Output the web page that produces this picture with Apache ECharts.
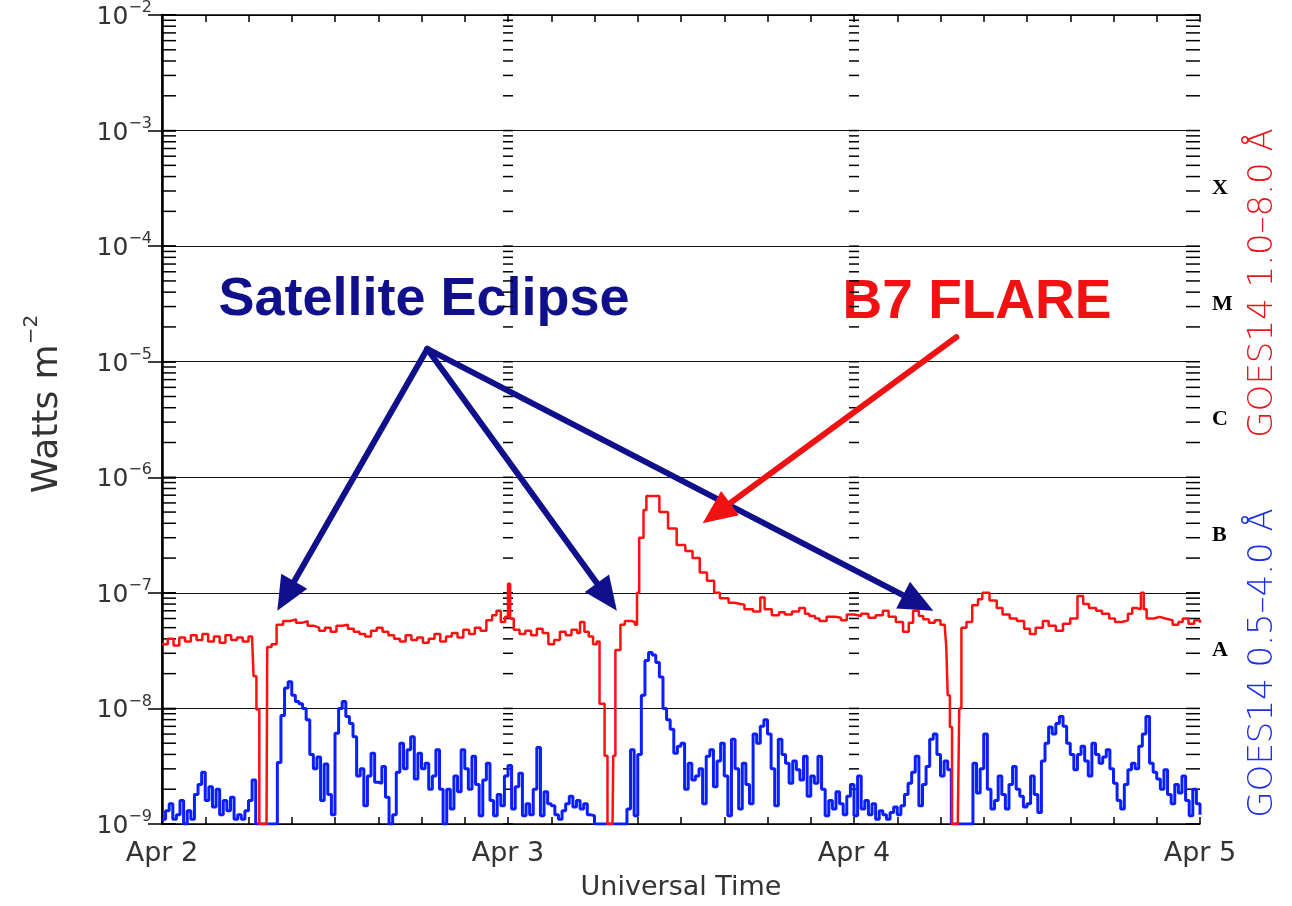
<!DOCTYPE html>
<html>
<head>
<meta charset="utf-8">
<script src="https://cdn.jsdelivr.net/npm/echarts@6/dist/echarts.min.js"></script>
<style>
  html, body { margin: 0; padding: 0; background: #fff; }
  #chart { width: 1292px; height: 906px; }
</style>
</head>
<body>
<div id="chart"></div>
<script>
// time axis: hours since Apr 2 00:00 UT
const dayLabels = ['Apr 2', 'Apr 3', 'Apr 4', 'Apr 5']
const decadeExponents = [-9, -8, -7, -6, -5, -4, -3, -2]
const flareClasses = ['', 'A', 'B', 'C', 'M', 'X', '']

// GOES14 1.0-8.0 A (red), W m^-2
const longHours = [
  0.0, 0.4, 0.8, 1.2, 1.6, 2.0, 2.4, 2.8, 3.2, 3.6, 4.0, 4.4, 4.8, 5.2, 5.6, 6.0, 6.25, 6.35, 6.55, 6.75,
  7.25, 7.3, 7.6, 7.95, 8.4, 8.9, 9.3, 9.7, 10.1, 10.5, 10.9, 11.3, 11.7, 12.1, 12.5, 12.9, 13.3, 13.7, 14.1, 14.5,
  14.9, 15.3, 15.7, 16.1, 16.5, 16.9, 17.3, 17.7, 18.1, 18.5, 18.9, 19.3, 19.7, 20.1, 20.5, 20.9, 21.3, 21.7, 22.1, 22.5,
  22.9, 23.2, 23.5, 23.8, 24.0, 24.15, 24.4, 24.8, 25.2, 25.6, 26.0, 26.4, 26.8, 27.2, 27.6, 28.0, 28.4, 28.8, 29.0, 29.3,
  29.6, 29.9, 30.15, 30.35, 30.7, 30.9, 31.25, 31.3, 31.45, 31.8, 32.1, 32.6, 32.8, 32.95, 33.1, 33.4, 33.6, 34.2, 34.5, 35.1,
  35.7, 36.3, 36.8, 37.3, 37.8, 38.3, 38.7, 39.3, 39.7, 40.4, 41.0, 41.5, 41.8, 42.3, 42.8, 43.2, 43.7, 44.2, 44.6, 44.9,
  45.3, 45.6, 46.1, 46.7, 47.1, 47.5, 48.0, 48.5, 49.0, 49.5, 50.0, 50.4, 50.9, 51.4, 51.8, 52.1, 52.5, 52.8, 53.2, 53.6,
  54.0, 54.3, 54.4, 54.5, 54.65, 54.8, 55.2, 55.3, 55.45, 55.8, 56.2, 56.6, 56.9, 57.4, 57.9, 58.3, 58.8, 59.3, 59.8, 60.2,
  60.6, 61.1, 61.5, 62.0, 62.5, 63.0, 63.5, 63.9, 64.3, 64.8, 65.2, 65.7, 66.1, 66.6, 67.0, 67.3, 67.6, 67.9, 68.1, 68.3,
  68.8, 69.2, 69.6, 70.1, 70.5, 70.8, 71.2, 71.6, 72.0
]
const longFlux = [
  3.6e-8, 4.0e-8, 3.5e-8, 4.1e-8, 3.8e-8, 4.3e-8, 3.9e-8, 4.4e-8, 3.8e-8, 4.2e-8, 3.7e-8, 4.3e-8, 3.9e-8, 4.1e-8, 3.8e-8, 4.2e-8, 4.0e-8, 1.9e-8, 9.8e-9, 1e-9,
  1e-9, 3.4e-8, 3.6e-8, 5.3e-8, 5.7e-8, 5.9e-8, 5.5e-8, 5.7e-8, 5.2e-8, 5.0e-8, 4.7e-8, 5.0e-8, 4.6e-8, 5.2e-8, 5.3e-8, 4.9e-8, 4.6e-8, 4.4e-8, 4.2e-8, 4.7e-8,
  5.0e-8, 4.6e-8, 4.3e-8, 4.0e-8, 3.8e-8, 4.3e-8, 3.9e-8, 4.1e-8, 3.7e-8, 4.0e-8, 4.4e-8, 3.8e-8, 4.2e-8, 4.5e-8, 4.1e-8, 4.8e-8, 4.4e-8, 5.0e-8, 4.7e-8, 5.8e-8,
  6.4e-8, 7.0e-8, 5.6e-8, 6.2e-8, 1.2e-7, 6.0e-8, 4.8e-8, 4.4e-8, 4.7e-8, 4.3e-8, 4.9e-8, 4.5e-8, 3.6e-8, 3.9e-8, 4.6e-8, 4.3e-8, 4.8e-8, 4.5e-8, 5.6e-8, 4.6e-8,
  4.2e-8, 3.6e-8, 3.8e-8, 1.1e-8, 3.9e-9, 1e-9, 1e-9, 3.9e-9, 3.2e-8, 5.3e-8, 5.7e-8, 5.6e-8, 5.3e-8, 1.0e-7, 3.0e-7, 5.2e-7, 6.9e-7, 6.9e-7, 5.0e-7, 3.6e-7,
  2.6e-7, 2.3e-7, 2.0e-7, 1.5e-7, 1.27e-7, 1.0e-7, 9.0e-8, 8.2e-8, 7.9e-8, 7.2e-8, 6.9e-8, 9.1e-8, 7.2e-8, 6.4e-8, 6.8e-8, 6.5e-8, 6.9e-8, 7.4e-8, 6.6e-8, 6.3e-8,
  6.0e-8, 5.7e-8, 6.2e-8, 6.1e-8, 5.8e-8, 6.5e-8, 6.3e-8, 6.6e-8, 6.1e-8, 6.4e-8, 7.0e-8, 6.2e-8, 5.6e-8, 4.6e-8, 5.5e-8, 7.0e-8, 6.3e-8, 5.9e-8, 5.5e-8, 5.8e-8,
  5.3e-8, 5.0e-8, 3.4e-8, 1.3e-8, 6.9e-9, 1e-9, 1e-9, 1.0e-8, 5.0e-8, 5.6e-8, 7.8e-8, 8.8e-8, 1.0e-7, 8.6e-8, 7.4e-8, 6.5e-8, 6.0e-8, 5.7e-8, 4.9e-8, 4.4e-8,
  5.0e-8, 5.7e-8, 5.2e-8, 4.7e-8, 5.4e-8, 6.0e-8, 9.4e-8, 8.0e-8, 7.4e-8, 7.0e-8, 6.6e-8, 6.0e-8, 5.6e-8, 5.8e-8, 6.6e-8, 7.4e-8, 7.2e-8, 1.0e-7, 7.2e-8, 6.0e-8,
  6.2e-8, 6.0e-8, 5.8e-8, 5.3e-8, 5.6e-8, 6.0e-8, 5.4e-8, 5.8e-8, 5.5e-8
]

// GOES14 0.5-4.0 A (blue), nW m^-2, one reading every 15 min from Apr 2 00:00
const shortStepHours = 0.25
const shortFluxNano = [
  1.1, 1.3, 1.5, 1.1, 1.2, 1.6, 1.0, 1.3,
  1.1, 1.8, 2.2, 2.8, 1.6, 2.1, 1.4, 2.0,
  1.2, 1.6, 1.3, 1.7, 1.1, 1.2, 1.1, 1.3,
  1.6, 2.4, 1.0, 1.0, 1.0, 1.0, 1.0, 1.0,
  3.4, 8.7, 15, 17, 13, 11.5, 11, 10,
  8.0, 4.0, 3.0, 3.8, 1.6, 3.3, 1.8, 1.2,
  6.1, 10, 11.5, 8.5, 7.4, 5.7, 2.6, 3.0,
  1.44, 2.6, 4.1, 2.3, 2.25, 3.15, 1.7, 1.0,
  1.2, 2.8, 5.0, 3.0, 4.4, 5.7, 2.45, 4.1,
  3.0, 3.35, 2.0, 2.6, 4.4, 2.0, 1.0, 2.0,
  1.35, 2.6, 1.9, 4.4, 3.0, 2.0, 3.85, 2.2,
  1.18, 2.4, 3.35, 1.6, 1.18, 1.8, 1.44, 2.6,
  3.2, 1.35, 2.1, 2.75, 1.18, 1.5, 1.2, 2.0,
  4.6, 1.18, 1.9, 1.5, 1.44, 1.2, 1.1, 1.3,
  1.5, 1.74, 1.4, 1.6, 1.35, 1.5, 1.2, 1.18,
  1.0, 1.0, 1.0, 1.0, 1.0, 1.0, 1.0, 1.0,
  1.0, 1.35, 4.4, 1.18, 4.0, 13, 26, 30.5,
  29, 25, 18.7, 10, 8.0, 6.6, 4.1, 4.7,
  5.0, 2.0, 3.35, 2.4, 2.6, 3.0, 1.5, 3.85,
  4.4, 2.1, 3.5, 5.0, 2.6, 1.18, 5.4, 3.0,
  1.35, 3.35, 2.2, 1.5, 6.0, 5.0, 7.0, 8.0,
  6.0, 3.0, 1.44, 5.4, 4.0, 3.35, 2.25, 3.5,
  2.95, 2.4, 3.85, 1.74, 2.6, 2.25, 3.85, 2.0,
  1.18, 1.6, 1.35, 1.9, 1.5, 1.2, 1.74, 2.2,
  1.18, 2.6, 1.35, 1.6, 1.2, 1.5, 1.1, 1.3,
  1.2, 1.1, 1.26, 1.4, 1.2, 1.44, 1.8, 2.25,
  2.8, 3.85, 1.44, 2.2, 3.15, 5.4, 6.0, 4.0,
  2.6, 3.5, 2.95, 1.0, 1.0, 1.0, 1.0, 1.0,
  1.0, 3.35, 1.85, 3.0, 6.0, 2.0, 1.35, 1.6,
  2.6, 1.8, 1.35, 2.2, 3.15, 2.0, 1.74, 1.4,
  1.5, 2.6, 1.8, 1.26, 3.5, 5.0, 6.9, 6.0,
  7.4, 8.5, 7.0, 5.0, 4.0, 2.95, 4.0, 4.7,
  3.5, 2.6, 5.0, 4.0, 3.35, 3.8, 4.4, 3.0,
  2.25, 1.6, 1.35, 2.2, 2.95, 3.35, 3.0, 4.7,
  6.0, 8.5, 3.35, 2.8, 2.45, 2.0, 2.95, 1.8,
  1.5, 2.2, 1.85, 2.6, 1.6, 1.18, 2.0, 1.5,
  1.2
]

// annotation arrows [hour, flux] -> [hour, flux]
const eclipseArrowFrom = [18.4, 1.29e-5]
const eclipseArrowTo = [[8.0, 7.0e-8], [31.55, 7.0e-8], [53.5, 7.0e-8]]
const flareArrowFrom = [55.1, 1.63e-5]
const flareArrowTo = [37.5, 4.0e-7]

const tickHours = [0, 24, 48, 72]

const FONT = '"DejaVu Sans", sans-serif'

let chart = echarts.init(document.getElementById('chart'))

// log minor ticks on the frame and on the day boundaries
let logTicks = []
decadeExponents.forEach((e) => {
  for (let k = 1; k <= 9; k++) {
    if (e === -2 && k > 1) continue
    let v = k * Math.pow(10, e)
    tickHours.forEach((h) => logTicks.push([h, v]))
  }
})

let eclipseArrows = eclipseArrowTo.map((t) => [eclipseArrowFrom[0], eclipseArrowFrom[1], t[0], t[1]])
let flareArrows = [[flareArrowFrom[0], flareArrowFrom[1], flareArrowTo[0], flareArrowTo[1]]]

function arrowRenderer(color) {
  return function (params, api) {
    let a = api.coord([api.value(0), api.value(1)])
    let b = api.coord([api.value(2), api.value(3)])
    let dx = b[0] - a[0]
    let dy = b[1] - a[1]
    let len = Math.sqrt(dx * dx + dy * dy)
    let ux = dx / len
    let uy = dy / len
    let headLen = 34
    let headHalf = 15
    let base = [b[0] - ux * headLen, b[1] - uy * headLen]
    return {
      type: 'group',
      children: [
        {
          type: 'line',
          shape: { x1: a[0], y1: a[1], x2: base[0] + ux * 2, y2: base[1] + uy * 2 },
          style: { stroke: color, lineWidth: 6, lineCap: 'round' },
        },
        {
          type: 'polygon',
          shape: {
            points: [
              b,
              [base[0] - uy * headHalf, base[1] + ux * headHalf],
              [base[0] + uy * headHalf, base[1] - ux * headHalf],
            ],
          },
          style: { fill: color },
        },
      ],
    }
  }
}

let option = {
  animation: false,
  backgroundColor: '#fff',
  grid: {
    left: 162,
    right: 92,
    top: 12,
    bottom: 78,
    containLabel: false,
  },
  xAxis: [
    {
      type: 'value',
      min: 0,
      max: 72,
      interval: 3,
      position: 'bottom',
      name: 'Universal Time',
      nameLocation: 'middle',
      nameGap: 50,
      nameTextStyle: { fontFamily: FONT, fontSize: 27, color: '#333' },
      axisLine: { show: true, lineStyle: { color: '#000', width: 1.5 } },
      axisTick: { show: true, inside: true, length: 7, lineStyle: { color: '#000', width: 1.5 } },
      axisLabel: {
        margin: 16,
        fontFamily: FONT,
        fontSize: 27,
        color: '#333',
        formatter: (v) => (v % 24 === 0 ? dayLabels[v / 24] : ''),
      },
      splitLine: { show: false },
    },
    {
      type: 'value',
      min: 0,
      max: 72,
      interval: 3,
      position: 'top',
      axisLine: { show: true, lineStyle: { color: '#000', width: 1.5 } },
      axisTick: { show: true, inside: true, length: 7, lineStyle: { color: '#000', width: 1.5 } },
      axisLabel: { show: false },
      splitLine: { show: false },
    },
  ],
  yAxis: [
    {
      type: 'log',
      logBase: 10,
      min: 1e-9,
      max: 1e-2,
      interval: 1,
      position: 'left',
      axisLine: { show: true, lineStyle: { color: '#000', width: 1.5 } },
      axisTick: { show: true, inside: true, length: 14, lineStyle: { color: '#000', width: 1.5 } },
      axisLabel: {
        margin: 10,
        formatter: (v) => {
          let e = Math.round(Math.log10(v))
          return '{b|10}{s|−' + Math.abs(e) + '}'
        },
        rich: {
          b: { fontFamily: FONT, fontSize: 25, color: '#333', lineHeight: 30, verticalAlign: 'bottom' },
          s: { fontFamily: FONT, fontSize: 16, color: '#333', lineHeight: 30, verticalAlign: 'top' },
        },
      },
      splitLine: { show: true, lineStyle: { color: '#111', width: 1.2 } },
    },
    {
      type: 'log',
      logBase: 10,
      min: 1e-9,
      max: 1e-2,
      interval: 1,
      position: 'right',
      axisLine: { show: true, lineStyle: { color: '#000', width: 2.5 } },
      axisTick: { show: true, inside: true, length: 14, lineStyle: { color: '#000', width: 1.5 } },
      axisLabel: { show: false },
      splitLine: { show: false },
    },
    {
      type: 'category',
      data: flareClasses,
      position: 'right',
      boundaryGap: true,
      axisLine: { show: false },
      axisTick: { show: false },
      axisLabel: {
        margin: 12,
        fontFamily: '"Liberation Serif", serif',
        fontWeight: 'bold',
        fontSize: 22,
        color: '#000',
      },
      splitLine: { show: false },
    },
  ],
  graphic: [
    {
      type: 'text',
      x: 44,
      y: 404,
      rotation: Math.PI / 2,
      style: {
        text: '{w|Watts m}{s|−2}',
        align: 'center',
        verticalAlign: 'middle',
        rich: {
          w: { fontFamily: FONT, fontSize: 36, fill: '#333', lineHeight: 44, verticalAlign: 'bottom' },
          s: { fontFamily: FONT, fontSize: 20, fill: '#333', lineHeight: 44, verticalAlign: 'top' },
        },
      },
    },
    {
      type: 'text',
      x: 1263,
      y: 283,
      rotation: Math.PI / 2,
      style: {
        text: 'GOES14 1.0–8.0 Å',
        font: '200 34px ' + FONT,
        fill: '#e8161c',
        align: 'center',
        verticalAlign: 'middle',
      },
    },
    {
      type: 'text',
      x: 1263,
      y: 663,
      rotation: Math.PI / 2,
      style: {
        text: 'GOES14 0.5–4.0 Å',
        font: '200 34px ' + FONT,
        fill: '#1c2ee8',
        align: 'center',
        verticalAlign: 'middle',
      },
    },
    {
      type: 'text',
      x: 424,
      y: 300,
      style: {
        text: 'Satellite Eclipse',
        font: 'bold 54px "Liberation Sans", Arial, sans-serif',
        fill: '#10108c',
        align: 'center',
        verticalAlign: 'middle',
      },
    },
    {
      type: 'text',
      x: 977,
      y: 303,
      style: {
        text: 'B7 FLARE',
        font: 'bold 55px "Liberation Sans", Arial, sans-serif',
        fill: '#f01212',
        align: 'center',
        verticalAlign: 'middle',
      },
    },
  ],
  series: [
    {
      // log minor ticks
      type: 'custom',
      silent: true,
      z: 1,
      clip: false,
      data: logTicks,
      renderItem: function (params, api) {
        let h = api.value(0)
        let p = api.coord([h, api.value(1)])
        let x0 = p[0] - 5
        let x1 = p[0] + 5
        if (h === 0) {
          x0 = p[0]
          x1 = p[0] + 14
        } else if (h === 72) {
          x0 = p[0] - 14
          x1 = p[0]
        }
        return {
          type: 'line',
          shape: { x1: x0, y1: p[1], x2: x1, y2: p[1] },
          style: { stroke: '#000', lineWidth: 1.5 },
        }
      },
    },
    {
      name: 'GOES14 1.0-8.0 A',
      type: 'line',
      step: 'end',
      showSymbol: false,
      z: 3,
      data: longHours.map((h, i) => [h, longFlux[i]]),
      lineStyle: { color: '#ff1010', width: 2.5 },
      itemStyle: { color: '#ff1010' },
      markLine: {
        silent: true,
        symbol: 'none',
        label: { show: false },
        lineStyle: { color: '#000', width: 2.4, type: 'solid' },
        data: [{ yAxis: 1e-6 }],
      },
    },
    {
      name: 'GOES14 0.5-4.0 A',
      type: 'line',
      step: 'end',
      showSymbol: false,
      z: 2,
      data: shortFluxNano.map((v, i) => [i * shortStepHours, v * 1e-9]),
      lineStyle: { color: '#0a1eff', width: 3 },
      itemStyle: { color: '#0a1eff' },
    },
    {
      type: 'custom',
      silent: true,
      z: 5,
      clip: false,
      encode: { x: [0, 2], y: [1, 3] },
      data: eclipseArrows,
      renderItem: arrowRenderer('#10108c'),
    },
    {
      type: 'custom',
      silent: true,
      z: 5,
      clip: false,
      encode: { x: [0, 2], y: [1, 3] },
      data: flareArrows,
      renderItem: arrowRenderer('#f01212'),
    },
  ],
}

chart.setOption(option)
</script>
</body>
</html>
